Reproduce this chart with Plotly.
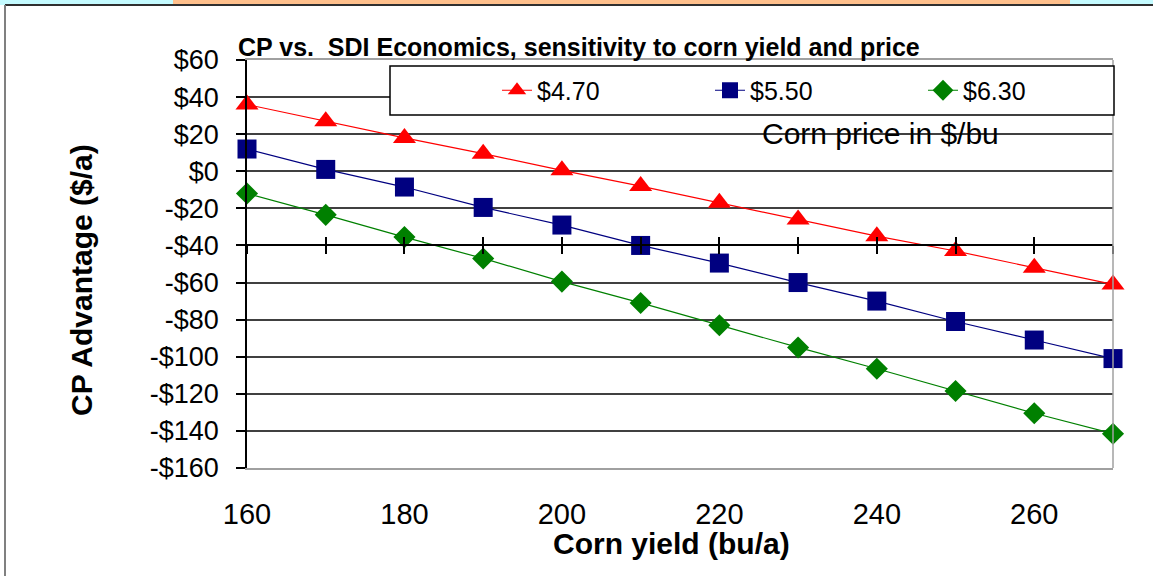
import plotly.graph_objects as go

# ---- data ----
yield_bu = [160, 170, 180, 190, 200, 210, 220, 230, 240, 250, 260, 270]
price_470 = [36, 27, 18, 9.5, 0.5, -8, -17, -26, -35, -43, -52, -61]
price_550 = [12, 1, -8.5, -19.5, -29, -40, -49.5, -60, -70, -81, -91, -101]
price_630 = [-12, -23.5, -35.5, -47, -59.5, -71, -83, -95, -106.5, -118.5, -130.5, -141.5]
series_names = ["$4.70", "$5.50", "$6.30"]
x_tick_vals = [160, 180, 200, 220, 240, 260]
y_tick_vals = [60, 40, 20, 0, -20, -40, -60, -80, -100, -120, -140, -160]
y_tick_text = ["$60", "$40", "$20", "$0", "-$20", "-$40", "-$60", "-$80",
               "-$100", "-$120", "-$140", "-$160"]
title_text = "CP vs.  SDI Economics, sensitivity to corn yield and price"
x_title = "Corn yield (bu/a)"
y_title = "CP Advantage ($/a)"
legend_note = "Corn price in $/bu"

# ---- layout geometry (pixels) ----
W, H = 1153, 576
L, R, T, B = 247, 1113, 60, 468
pw, ph = R - L, B - T


def px(x):
    return (x - L) / pw


def py(y):
    return (B - y) / ph


FONT = "Liberation Sans, Arial, sans-serif"

fig = go.Figure()
styles = [
    dict(color="#FF0000", symbol="triangle-up", size=20),
    dict(color="#000080", symbol="square", size=19),
    dict(color="#008000", symbol="diamond", size=17),
]
for name, vals, st in zip(series_names, [price_470, price_550, price_630], styles):
    fig.add_trace(go.Scatter(
        x=yield_bu, y=vals, name=name, mode="lines+markers",
        line=dict(color=st["color"], width=1.2),
        marker=dict(symbol=st["symbol"], size=st["size"], color=st["color"],
                    line=dict(width=0)),
        cliponaxis=False,
    ))

# helper traces so the crossing x axis at -$40 is drawn
for xa in ["x2", "x3"]:
    fig.add_trace(go.Scatter(x=yield_bu, y=price_470, xaxis=xa, yaxis="y",
                             mode="lines", opacity=0, showlegend=False,
                             hoverinfo="skip"))

cross_pos = (-40 - (-160)) / (60 - (-160))
axis_common = dict(range=[160, 270], showgrid=False, zeroline=False,
                   showticklabels=False, tick0=160, dtick=10,
                   showline=True, linecolor="black", linewidth=1.5,
                   ticklen=8, tickwidth=1.5, tickcolor="black",
                   overlaying="x", anchor="free", position=cross_pos)

fig.update_layout(
    width=W, height=H,
    margin=dict(l=L, r=W - R, t=T, b=H - B, autoexpand=False),
    paper_bgcolor="white", plot_bgcolor="white",
    font=dict(family=FONT, color="black"),
    showlegend=True,
    legend=dict(orientation="h", x=px(497), y=py(90.5), xanchor="left",
                yanchor="middle", bgcolor="rgba(0,0,0,0)", borderwidth=0,
                font=dict(size=25, family=FONT), entrywidth=168,
                entrywidthmode="pixels", itemsizing="trace"),
    xaxis=dict(range=[160, 270], tickvals=x_tick_vals, showgrid=False,
               zeroline=False, showline=True, linecolor="#a0a0a0",
               linewidth=1.5, mirror=True, ticks="",
               tickfont=dict(size=29, family=FONT), ticklabelstandoff=19),
    xaxis2=dict(ticks="outside", **axis_common),
    xaxis3=dict(ticks="inside", **axis_common),
    yaxis=dict(range=[-160, 60], tickvals=y_tick_vals, ticktext=y_tick_text,
               showgrid=True, gridcolor="#404040", gridwidth=1.5,
               zeroline=False, showline=True, linecolor="black", linewidth=1.5,
               ticks="outside", ticklen=9, tickwidth=1.5, tickcolor="black",
               tickfont=dict(size=27, family=FONT), ticklabelstandoff=12),
)

shapes = [
    # right border of plot area
    dict(type="line", xref="paper", yref="paper", x0=1, x1=1, y0=0, y1=1,
         line=dict(color="#a0a0a0", width=1.5), layer="above"),
    # legend box
    dict(type="rect", xref="paper", yref="paper", x0=px(390), x1=px(1114),
         y0=py(115), y1=py(66), fillcolor="white",
         line=dict(color="black", width=1.5), layer="above"),
    # spreadsheet strip at top
    dict(type="rect", xref="paper", yref="paper", x0=px(0), x1=px(173),
         y0=py(5), y1=py(0), fillcolor="#c4fbff", line=dict(width=0)),
    dict(type="rect", xref="paper", yref="paper", x0=px(173), x1=px(1070),
         y0=py(5), y1=py(0), fillcolor="#ffc08c", line=dict(width=0)),
    dict(type="rect", xref="paper", yref="paper", x0=px(1070), x1=px(W),
         y0=py(5), y1=py(0), fillcolor="#c4fbff", line=dict(width=0)),
    dict(type="line", xref="paper", yref="paper", x0=px(5), x1=px(W),
         y0=py(5), y1=py(5), line=dict(color="#303030", width=2)),
    dict(type="line", xref="paper", yref="paper", x0=px(5), x1=px(5),
         y0=py(5), y1=py(H), line=dict(color="#808080", width=2)),
]
fig.update_layout(shapes=shapes)

annotations = [
    dict(text=f"<b>{title_text}</b>", xref="paper", yref="paper",
         x=px(236), y=py(47), xanchor="left", yanchor="middle",
         showarrow=False, font=dict(size=25, family=FONT)),
    dict(text=f"<b>{x_title}</b>", xref="paper", yref="paper",
         x=px(671), y=py(543), xanchor="center", yanchor="middle",
         showarrow=False, font=dict(size=30, family=FONT)),
    dict(text=f"<b>{y_title}</b>", xref="paper", yref="paper",
         x=px(81), y=py(280), xanchor="center", yanchor="middle",
         textangle=-90, showarrow=False, font=dict(size=30, family=FONT)),
    dict(text=legend_note, xref="paper", yref="paper",
         x=px(880), y=py(133), xanchor="center", yanchor="middle",
         showarrow=False, font=dict(size=30, family=FONT)),
]
fig.update_layout(annotations=annotations)

fig.write_html("out.html",
               config={"displayModeBar": False},
               post_script="document.body.style.margin='0';"
                           "document.body.style.overflow='hidden';")
